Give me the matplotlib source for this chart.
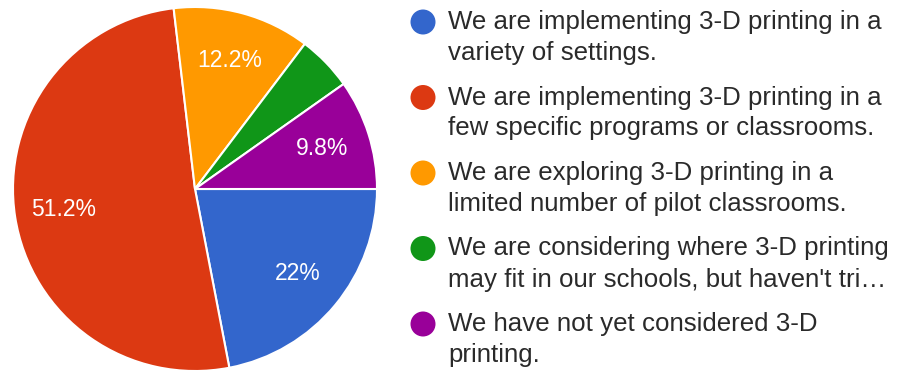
import matplotlib
matplotlib.use("Agg")
import matplotlib.pyplot as plt
import numpy as np

plt.rcParams['font.family'] = ['Liberation Sans', 'DejaVu Sans']

# Survey shares (percent of responses)
categories = [
    "We are implementing 3-D printing in a\nvariety of settings.",
    "We are implementing 3-D printing in a\nfew specific programs or classrooms.",
    "We are exploring 3-D printing in a\nlimited number of pilot classrooms.",
    "We are considering where 3-D printing\nmay fit in our schools, but haven't tri\u2026",
    "We have not yet considered 3-D\nprinting.",
]
shares = [22.0, 51.2, 12.2, 4.9, 9.8]
share_labels = ["22%", "51.2%", "12.2%", "", "9.8%"]
colors = ["#3366cc", "#dc3912", "#ff9900", "#109618", "#990099"]

W, H = 897, 373
fig = plt.figure(figsize=(W / 100, H / 100), dpi=100)
ax = fig.add_axes([0, 0, 1, 1])
ax.set_xlim(0, W)
ax.set_ylim(0, H)
ax.set_aspect('equal')
ax.axis('off')

cx, cy, r = 195, H - 189, 182
wedges, _ = ax.pie(shares, colors=colors, startangle=0, counterclock=False,
                   center=(cx, cy), radius=r, frame=True,
                   wedgeprops=dict(edgecolor='white', linewidth=1.5))
ax.set_xlim(0, W)
ax.set_ylim(0, H)
ax.axis('off')

for w, lab in zip(wedges, share_labels):
    if not lab:
        continue
    mid = np.deg2rad((w.theta1 + w.theta2) / 2)
    d = 0.73 * r
    ax.text(cx + d * np.cos(mid), cy + d * np.sin(mid), lab,
            color='white', fontsize=16.5, ha='center', va='center')

# Legend
y0 = H - 22
step = 75.5
line_gap = 31
for i, (cat, col) in enumerate(zip(categories, colors)):
    y = y0 - i * step
    ax.add_patch(plt.Circle((423, y), 12.5, color=col, ec='none'))
    first, second = cat.split("\n")
    ax.text(448, y, first, fontsize=18.6, color='#2a2a2a', ha='left', va='center')
    ax.text(448, y - line_gap, second, fontsize=18.6, color='#2a2a2a', ha='left', va='center')

fig.savefig("out.png", dpi=100, facecolor='white')
